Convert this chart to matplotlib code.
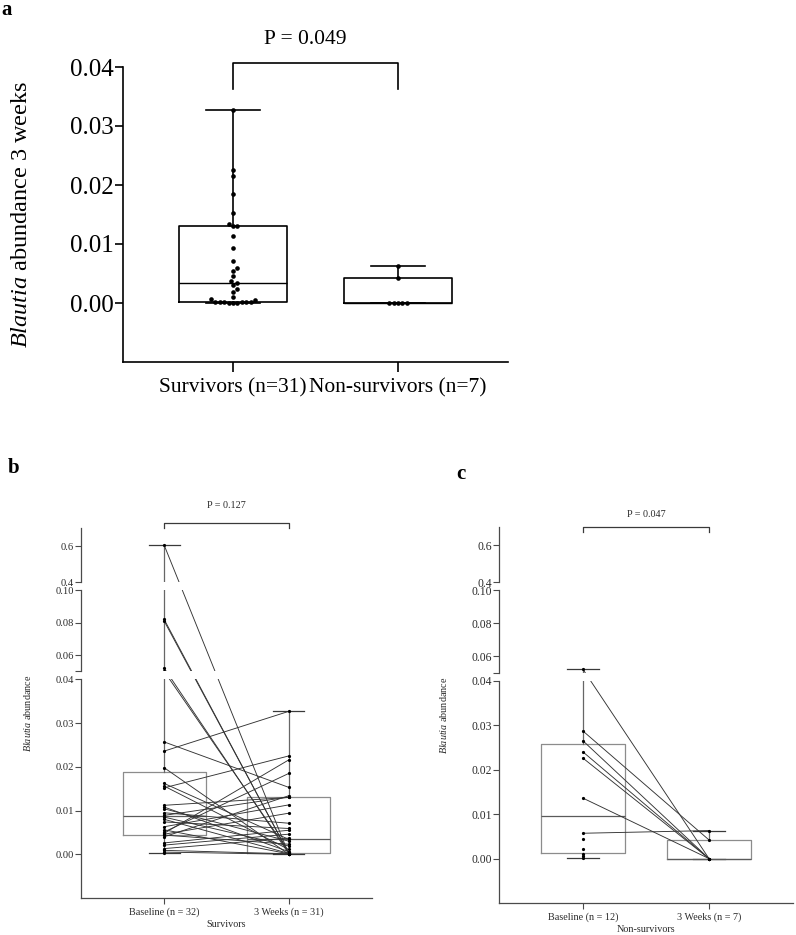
import numpy as np
import matplotlib
matplotlib.use("Agg")
import matplotlib.pyplot as plt

plt.rcParams["font.family"] = "Liberation Serif"
plt.rcParams["mathtext.fontset"] = "custom"
plt.rcParams["mathtext.rm"] = "Liberation Serif"
plt.rcParams["mathtext.it"] = "Liberation Serif:italic"

# Survivors: baseline values, paired by position with the 3 week values
# (the last baseline sample has no 3 week partner)
surv_base = [0.605, 0.082, 0.081, 0.052, 0.050, 0.0257, 0.0236, 0.0198,
             0.0162, 0.0156, 0.0152, 0.0112, 0.0108, 0.0104, 0.0095, 0.0089,
             0.0085, 0.0080, 0.0074, 0.0063, 0.0056, 0.0051, 0.0048, 0.0046,
             0.0044, 0.0040, 0.0026, 0.0021, 0.0013, 0.0009, 0.0005, 0.0002]
surv_3w = [0.0000, 0.0001, 0.0002, 0.0001, 0.0005, 0.0153, 0.0327, 0.0000,
           0.0034, 0.0011, 0.0225, 0.0130, 0.0006, 0.0030, 0.0071, 0.0131,
           0.0019, 0.0002, 0.0059, 0.0113, 0.0001, 0.0185, 0.0216, 0.0094,
           0.0023, 0.0134, 0.0055, 0.0046, 0.0037, 0.0001, 0.0000]

# Non-survivors, same pairing rule
nonsurv_base = [0.052, 0.0287, 0.0265, 0.0240, 0.0226, 0.0136, 0.0057,
                0.0045, 0.0022, 0.0010, 0.0005, 0.0002]
nonsurv_3w = [0.0000, 0.0042, 0.0000, 0.0000, 0.0000, 0.0000, 0.0063]

a_labels = ["Survivors (n=31)", "Non-survivors (n=7)"]
b_labels = ["Baseline (n = 32)", "3 Weeks (n = 31)"]
c_labels = ["Baseline (n = 12)", "3 Weeks (n = 7)"]
p_values = ["P = 0.049", "P = 0.127", "P = 0.047"]

# broken y axis: value -> screen units
BRK_V = [-0.01, 0.04, 0.05, 0.10, 0.40, 0.70]
BRK_U = [0, 218, 226, 307, 315, 369]

TXT = "#2b2b2b"


def box_stats(vals):
    v = np.asarray(vals, float)
    q1, med, q3 = np.percentile(v, [25, 50, 75], method="weibull")
    return dict(med=med, q1=q1, q3=q3, whislo=v.min(), whishi=v.max(),
                fliers=[])


def swarm(vals, dot_px, px_x, px_y):
    """simple beeswarm offsets (x data units)"""
    vals = np.asarray(vals, float)
    offs = np.zeros(len(vals))
    placed = []
    for i in np.argsort(vals, kind="stable"):
        y = vals[i] * px_y
        step = 0
        while True:
            cands = [0.0] if step == 0 else [step * dot_px * 0.5,
                                             -step * dot_px * 0.5]
            ok = None
            for c in cands:
                if all((c - px) ** 2 + (y - py) ** 2 >= dot_px ** 2 * 0.98
                       for px, py in placed):
                    ok = c
                    break
            if ok is not None:
                break
            step += 1
        placed.append((ok, y))
        offs[i] = ok / px_x
    return offs


fig = plt.figure(figsize=(7.96, 9.35), dpi=100)

# ---------------- panel a ----------------
ax = fig.add_axes([123 / 796, 1 - 362 / 935, 385 / 796, 295 / 935])
st = [box_stats(surv_3w), box_stats(nonsurv_3w)]
lp = dict(color="black", lw=1.2)
ax.bxp(st, positions=[0, 1], widths=0.66, capwidths=0.323, showfliers=False,
       boxprops=lp, whiskerprops=lp, capprops=lp,
       medianprops=dict(color="black", lw=1.0))
for pos, vals in enumerate([surv_3w, nonsurv_3w]):
    xo = swarm(vals, 4.4, 165, 5830)
    ax.scatter(pos + xo, vals, s=11, color="black", zorder=4, lw=0)

ax.set_xlim(-0.667, 1.667)
ax.set_ylim(-0.01, 0.04)
ax.set_yticks([0, 0.01, 0.02, 0.03, 0.04])
ax.set_yticklabels(["0.00", "0.01", "0.02", "0.03", "0.04"])
ax.set_xticks([0, 1])
ax.set_xticklabels(a_labels)
ax.tick_params(width=1.2, length=6)
ax.tick_params(axis="y", pad=1, labelsize=18)
ax.tick_params(axis="x", pad=5, length=7, labelsize=15.5)
for s in ["top", "right"]:
    ax.spines[s].set_visible(False)
for s in ["left", "bottom"]:
    ax.spines[s].set_linewidth(1.2)
ax.set_ylabel(r"$\mathit{Blautia}$ abundance 3 weeks", fontsize=17.5)
ax.yaxis.set_label_coords(-0.236, 0.5)
ax.plot([0, 0, 1, 1], [0.0362, 0.04065, 0.04065, 0.0362], color="black",
        lw=1.2, clip_on=False)
ax.text(0.44, 0.0446, p_values[0], ha="center", va="center", fontsize=15.5)


# ---------------- panels b / c ----------------
def paired_panel(rect, base, wk, ticklabels, xlabel, pval, brk_y, p_y,
                 ylab_x, ysize):
    ax = fig.add_axes(rect)
    ax.set_yscale("function",
                  functions=(lambda v: np.interp(v, BRK_V, BRK_U),
                             lambda u: np.interp(u, BRK_U, BRK_V)))
    ax.set_xlim(-0.667, 1.667)
    ax.set_ylim(-0.01, 0.70)

    ax.bxp([box_stats(base), box_stats(wk)], positions=[0, 1], widths=0.664,
           capwidths=0.25, showfliers=False,
           boxprops=dict(color="#8c8c8c", lw=0.9),
           whiskerprops=dict(color="#666666", lw=0.9),
           capprops=dict(color="#3a3a3a", lw=0.9),
           medianprops=dict(color="#5a5a5a", lw=0.9))

    # paired lines
    for b, w in zip(base, wk):
        ax.plot([0, 1], [b, w], color="#333333", lw=0.65, zorder=3)
    ax.plot(np.zeros(len(base)), base, "o", ms=2.3, color="black",
            mew=0, zorder=4)
    ax.plot(np.ones(len(wk)), wk, "o", ms=2.3, color="black", mew=0,
            zorder=4)

    # gaps of the broken axis
    ax.axhspan(0.04, 0.05, color="white", lw=0, zorder=5)
    ax.axhspan(0.10, 0.40, color="white", lw=0, zorder=5)
    ax.spines["left"].set_visible(False)
    for s in ["top", "right"]:
        ax.spines[s].set_visible(False)
    ax.spines["bottom"].set_linewidth(0.9)
    ax.spines["bottom"].set_color("#4a4a4a")
    for lo, hi in [(-0.01, 0.04), (0.05, 0.10), (0.40, 0.70)]:
        ax.plot([0, 0], [lo, hi], transform=ax.get_yaxis_transform(),
                color="#4a4a4a", lw=0.9, clip_on=False, zorder=6)

    ax.set_yticks([0, 0.01, 0.02, 0.03, 0.04, 0.05, 0.06, 0.08, 0.10,
                   0.4, 0.6])
    ax.set_yticklabels(["0.00", "0.01", "0.02", "0.03", "0.04", "", "0.06",
                        "0.08", "0.10", "0.4", "0.6"])
    ax.minorticks_off()
    ax.set_xticks([0, 1])
    ax.set_xticklabels(ticklabels)
    ax.tick_params(labelsize=7.3, width=0.8, length=4, color="#4a4a4a",
                   labelcolor=TXT)
    ax.tick_params(axis="y", pad=1, labelsize=ysize)
    ax.tick_params(axis="x", pad=3)
    ax.set_xlabel(xlabel, fontsize=7.3, color=TXT, labelpad=2)
    ax.set_ylabel(r"$\mathit{Blautia}$ abundance", fontsize=7.3, color=TXT)
    ax.yaxis.set_label_coords(ylab_x, 0.5)

    tr = ax.get_xaxis_transform()
    ax.plot([0, 0, 1, 1], [brk_y[0], brk_y[1], brk_y[1], brk_y[0]],
            transform=tr, color="#3a3a3a", lw=0.9, clip_on=False)
    ax.text(0.5, p_y, pval, transform=tr, ha="center", va="center",
            fontsize=7.3, color=TXT)
    return ax


paired_panel([81 / 796, 1 - 898 / 935, 291 / 796, 370 / 935],
             surv_base, surv_3w, b_labels, "Survivors", p_values[1],
             (1.0, 1.0136), 1.062, -0.165, 7.6)
paired_panel([499 / 796, 1 - 903 / 935, 294 / 796, 376 / 935],
             nonsurv_base, nonsurv_3w, c_labels, "Non-survivors",
             p_values[2], (0.987, 1.0), 1.032, -0.17, 8.4)

# panel letters
for lab, x, y in [("a", 7, 10), ("b", 14, 468), ("c", 461, 474)]:
    fig.text(x / 796, 1 - y / 935, lab, ha="center", va="center",
             fontsize=15, fontweight="bold")

fig.savefig("out.png", dpi=100)
